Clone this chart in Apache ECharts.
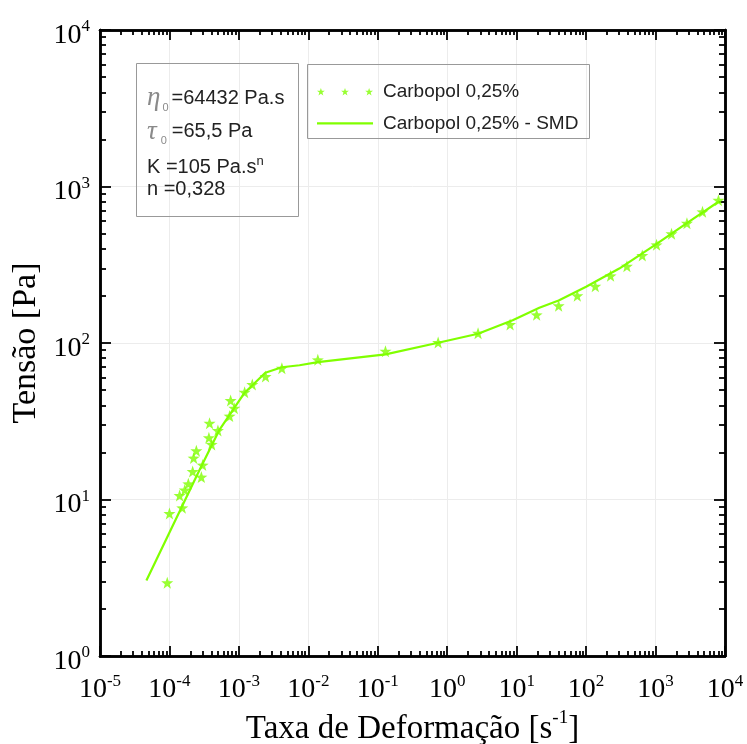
<!DOCTYPE html>
<html>
<head>
<meta charset="utf-8">
<script src="https://cdn.jsdelivr.net/npm/echarts@6/dist/echarts.min.js"></script>
<style>
html,body{margin:0;padding:0;background:#fff;}
#chart{width:747px;height:744px;}
</style>
</head>
<body>
<div id="chart"></div>
<script>
// ---- data ----
var expX = [-5, -4, -3, -2, -1, 0, 1, 2, 3, 4];
var expY = [0, 1, 2, 3, 4];

var dataRate = [9.3e-5, 1.0e-4, 1.53e-4, 1.40e-4, 1.66e-4, 1.87e-4, 2.16e-4, 2.88e-4, 2.23e-4, 2.44e-4,
  3.01e-4, 4.05e-4, 3.70e-4, 3.78e-4, 4.99e-4, 7.35e-4, 7.6e-4, 8.59e-4, 1.21e-3, 1.56e-3,
  2.42e-3, 4.16e-3, 1.37e-2, 0.129, 0.74, 2.78, 8.04, 19.4, 40.2, 74.7,
  135.6, 225, 387, 644, 1033, 1698, 2831, 4745, 8054];
var dataStress = [2.94, 8.14, 8.85, 10.6, 11.5, 12.6, 15.1, 13.9, 18.4, 20.5,
  16.6, 22.5, 24.8, 30.7, 27.6, 34.1, 42.9, 38.3, 48.5, 54.3,
  61.1, 69.0, 78.1, 88.7, 100.7, 115.6, 131.3, 151.4, 172.9, 200.4,
  230.7, 268.8, 309.6, 362.3, 424, 498.8, 583, 689, 817];

var smdRate = [4.66e-5, 2.72e-4, 5.27e-4, 1.21e-3, 2.40e-3, 4.16e-3, 7.46e-3, 1.37e-2, 0.129, 0.74,
  2.78, 8.76, 21.2, 40.2, 100, 300, 1000, 3000, 8260];
var smdStress = [3.04, 15.5, 28.0, 48.1, 64.5, 70.0, 72.1, 75.4, 84.5, 100.3,
  114.5, 139.9, 167.9, 186.9, 228.6, 299, 425, 595, 805];

var seriesNames = ['Carbopol 0,25%', 'Carbopol 0,25% - SMD'];

// ---- helpers ----
var GREEN = '#80FF00';
var starPts = [[10,0],[12.351,6.764],[19.511,6.91],[13.804,11.236],[15.878,18.09],[10,14],[4.122,18.09],[6.196,11.236],[0.489,6.91],[7.649,6.764]];
function starPath(offsets) {
  var s = 'path://';
  offsets.forEach(function (o) {
    starPts.forEach(function (p, i) {
      s += (i === 0 ? 'M' : 'L') + (p[0] + o).toFixed(3) + ' ' + p[1] + ' ';
    });
    s += 'Z ';
  });
  return s;
}
var STAR = starPath([0]);
var STAR3 = starPath([0, 59, 118]);
var LINEICON = 'path://M0 0 L56 0 L56 2.2 L0 2.2 Z';

function majors(exps) { return exps.map(function (e) { return Math.pow(10, e); }); }
function minors(exps) {
  var out = [];
  for (var i = 0; i < exps.length - 1; i++) {
    for (var k = 2; k <= 9; k++) out.push(k * Math.pow(10, exps[i]));
  }
  return out;
}
function expLabel(v) {
  var e = Math.round(Math.log10(v));
  return '{b|10}{s|' + e + '}';
}
var labelRich = {
  b: { fontFamily: 'Liberation Serif', fontSize: 28, lineHeight: 34, color: '#000', verticalAlign: 'middle' },
  s: { fontFamily: 'Liberation Serif', fontSize: 17, lineHeight: 17, color: '#000', verticalAlign: 'top' }
};
var AXLINE = { color: '#000', width: 2.5 };

function mkX(pos, withLabel, minor, exps) {
  return {
    type: 'log', logBase: 10, min: 1e-5, max: 1e4, position: pos, gridIndex: 0,
    axisLine: { show: true, onZero: false, lineStyle: AXLINE },
    axisTick: { show: true, inside: true, length: minor ? 5 : 10, lineStyle: { color: '#000', width: 1.8 },
      customValues: minor ? minors(exps) : majors(exps) },
    axisLabel: withLabel ? { show: true, margin: 17, formatter: expLabel, rich: labelRich, customValues: majors(exps) } : { show: false },
    splitLine: { show: withLabel, lineStyle: { color: '#ececec', width: 1 } },
    minorTick: { show: false }, minorSplitLine: { show: false }
  };
}
function mkY(pos, withLabel, minor, exps) {
  return {
    type: 'log', logBase: 10, min: 1, max: 1e4, position: pos, gridIndex: 0,
    axisLine: { show: true, onZero: false, lineStyle: AXLINE },
    axisTick: { show: true, inside: true, length: minor ? 6 : 11, lineStyle: { color: '#000', width: 1.8 },
      customValues: minor ? minors(exps) : majors(exps) },
    axisLabel: withLabel ? { show: true, margin: 10, padding: [11, 0, 0, 0], formatter: expLabel, rich: labelRich, customValues: majors(exps) } : { show: false },
    splitLine: { show: withLabel, lineStyle: { color: '#ececec', width: 1 } },
    minorTick: { show: false }, minorSplitLine: { show: false }
  };
}

var xAxes = [mkX('bottom', true, false, expX), mkX('top', false, false, expX), mkX('bottom', false, true, expX), mkX('top', false, true, expX)];
xAxes[0].name = '{a|Taxa de Deformação [s}{s|-1}{a|]}';
xAxes[0].nameLocation = 'middle';
xAxes[0].nameGap = 52;
xAxes[0].nameTextStyle = { rich: {
  a: { fontFamily: 'Liberation Serif', fontSize: 33, lineHeight: 40, color: '#000', verticalAlign: 'middle' },
  s: { fontFamily: 'Liberation Serif', fontSize: 19, lineHeight: 19, color: '#000', verticalAlign: 'top' } } };

var yAxes = [mkY('left', true, false, expY), mkY('right', false, false, expY), mkY('left', false, true, expY), mkY('right', false, true, expY)];
yAxes[0].name = 'Tensão [Pa]';
yAxes[0].nameLocation = 'middle';
yAxes[0].nameGap = 52;
yAxes[0].nameTextStyle = { fontFamily: 'Liberation Serif', fontSize: 34, color: '#000' };

var scatterData = dataRate.map(function (x, i) { return [x, dataStress[i]]; });
var lineData = smdRate.map(function (x, i) { return [x, smdStress[i]]; });

var chart = echarts.init(document.getElementById('chart'), null, { renderer: 'canvas' });
chart.setOption({
  backgroundColor: '#fff',
  animation: false,
  grid: { left: 100, right: 22, top: 30, bottom: 88, containLabel: false, outerBoundsMode: 'none' },
  xAxis: xAxes,
  yAxis: yAxes,
  legend: {
    orient: 'vertical', left: 317, top: 80.7, padding: 0, itemGap: 9.6,
    itemWidth: 56, itemHeight: 12,
    textStyle: { fontFamily: 'Liberation Sans', fontSize: 19, lineHeight: 22, color: '#222', padding: [0, 0, 0, 5] },
    data: [
      { name: seriesNames[0], icon: STAR3, itemStyle: { color: GREEN } },
      { name: seriesNames[1], icon: LINEICON, itemStyle: { color: GREEN } }
    ]
  },
  graphic: [
    { type: 'rect', shape: { x: 136.5, y: 63.5, width: 162, height: 153 }, style: { fill: 'none', stroke: '#999', lineWidth: 1 }, z: 100 },
    { type: 'rect', shape: { x: 307.5, y: 64.5, width: 282, height: 74 }, style: { fill: 'none', stroke: '#999', lineWidth: 1 }, z: 100 },
    { type: 'text', x: 147, y: 98.3, z: 100, style: {
      text: '{g|η}{sub|0}{t|=64432 Pa.s}', verticalAlign: 'middle',
      rich: {
        g: { fontFamily: 'Liberation Serif', fontStyle: 'italic', fontSize: 27, lineHeight: 30, fill: '#8a8a8a', verticalAlign: 'middle', padding: [0, 2, 0, 0] },
        sub: { fontFamily: 'Liberation Sans', fontSize: 11, lineHeight: 12, fill: '#8a8a8a', verticalAlign: 'bottom', padding: [0, 3, 0, 0] },
        t: { fontFamily: 'Liberation Sans', fontSize: 20, lineHeight: 30, fill: '#222', verticalAlign: 'middle' }
      } } },
    { type: 'text', x: 147, y: 131.7, z: 100, style: {
      text: '{g|τ}{sub|0}{t|=65,5 Pa}', verticalAlign: 'middle',
      rich: {
        g: { fontFamily: 'Liberation Serif', fontStyle: 'italic', fontSize: 27, lineHeight: 30, fill: '#8a8a8a', verticalAlign: 'middle', padding: [0, 4, 0, 0] },
        sub: { fontFamily: 'Liberation Sans', fontSize: 11, lineHeight: 12, fill: '#8a8a8a', verticalAlign: 'bottom', padding: [0, 5, 0, 0] },
        t: { fontFamily: 'Liberation Sans', fontSize: 20, lineHeight: 30, fill: '#222', verticalAlign: 'middle' }
      } } },
    { type: 'text', x: 147, y: 167.5, z: 100, style: {
      text: '{t|K =105 Pa.s}{sup|n}', verticalAlign: 'middle',
      rich: {
        t: { fontFamily: 'Liberation Sans', fontSize: 20, lineHeight: 26, fill: '#222', verticalAlign: 'middle' },
        sup: { fontFamily: 'Liberation Sans', fontSize: 13, lineHeight: 13, fill: '#222', verticalAlign: 'top' }
      } } },
    { type: 'text', x: 147, y: 189, z: 100, style: {
      text: 'n =0,328', verticalAlign: 'middle', fontFamily: 'Liberation Sans', fontSize: 20, fill: '#222' } }
  ],
  series: [
    {
      name: seriesNames[0], type: 'scatter', xAxisIndex: 0, yAxisIndex: 0,
      symbol: STAR, symbolSize: 12, itemStyle: { color: GREEN }, z: 5,
      data: scatterData
    },
    {
      name: seriesNames[1], type: 'line', xAxisIndex: 0, yAxisIndex: 0,
      symbol: 'none', showSymbol: false, smooth: false,
      lineStyle: { color: GREEN, width: 2.2 }, itemStyle: { color: GREEN }, z: 4,
      data: lineData
    }
  ]
});
</script>
</body>
</html>
